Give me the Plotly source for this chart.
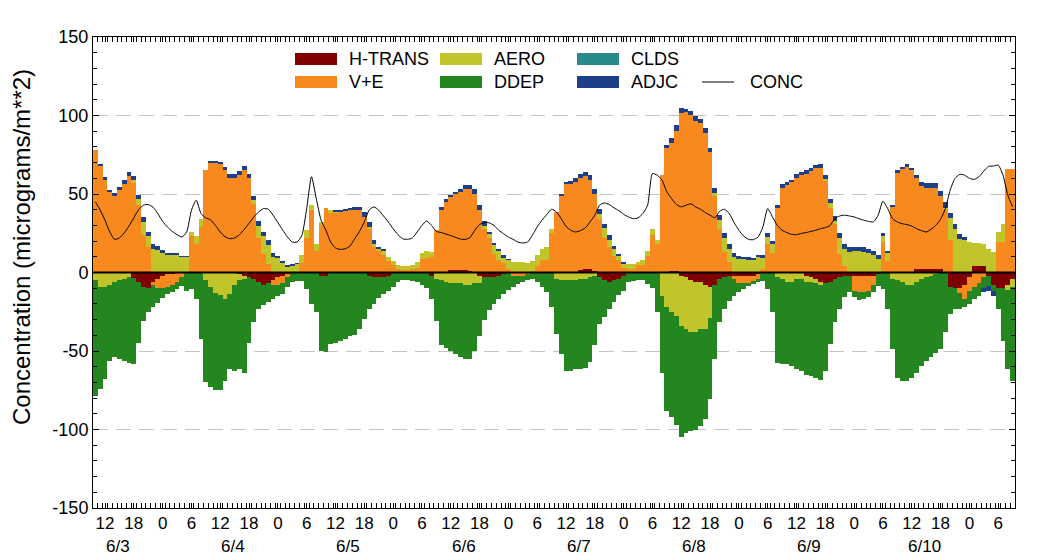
import numpy as np
import plotly.graph_objects as go

# ---------------- data (hourly, first bar = 6/3 10:00) ----------------
FIRST_HOUR = 10  # hours after 6/3 00:00

HTRANS = [
    0, 0, 0, 0, 0, 0, 0, 0, -3.5, -6, -9, -10,
    -6, -4, -2, -1, -1, 0, 0, 0, 0, 0, 0, 0,
    0, 0, 0, 0, 0, 0, -1, -2, -3, -4, -6, -8,
    -7, -5, -3, -2, -1, 0, 0, 0, 0, 0, 0, -2,
    -2, 0, 0, 0, 0, 0, 0, 0, 0, -2, -3, -3,
    -3, -2, 0, 0, 0, 0, 0, 0, 0, 0, -2, 0,
    0, 0, 1.5, 1.5, 1.5, 1.5, 1, 0, -2, -3, -3, -3,
    -2, -1, 0, 0, 0, 0, 0, 0, 0, 0, 0, 0,
    0, 0, 0, 0, 0, 1.5, 2, 2, 1, -3, -5, -6,
    -5, -4, -2, 0, 0, 0, 0, 0, 0, 0, 0, 0.5,
    1, 1, -2, -3, -5, -6, -6, -8, -9, -8, -4, -3,
    -2, -2, -2, -2, -2, -2, -1, 0, 0, 0, 0, 0,
    0, 0, 0, 0, -2, -3, -4, -6, -7, -6, -4, -3,
    -2, -2, -2.5, -2.5, -2.5, -2.5, -2, -1, 0, 0, 0, 0,
    0, 0, 0, 2, 2, 2, 2, 2, 2, 0, -9, -10,
    -10, -8, -3, 4, 4.4, 4, -2, -8, -10, -10, -8, -4,
]

VE = [
    78, 68, 59, 51, 49, 52.5, 56.3, 61.4, 57, 43.3, 23.7, 16,
    -2, -6, -8, -8, -7, -6, -3, 0, 23, 18, 29, 65,
    70, 69.5, 69, 65, 60.5, 60.5, 62, 65, 60, 43.5, 22, 12,
    5.5, -3, -5, -5, -2, 0, 0, 6, 22, 40, 14, 30,
    41, 38.5, 38.5, 39, 39.5, 39.5, 40, 40, 35.5, 28, 16, 13.5,
    11, 7.5, 4.5, 2, 1.5, 1.5, 2, 2.6, 8.4, 9.4, 10, 27,
    40, 45, 46.5, 48.5, 49.8, 51.9, 52.2, 49.8, 40, 27.6, 21.8, 12,
    8.2, 6.3, 2, -2, -2, -2, -1, 1, 4, 8, 8, 25,
    38.6, 48.7, 56.3, 56.3, 57.4, 58.4, 59.4, 57, 48.7, 34.3, 21.8, 16,
    10.8, 7.7, 3, 2.5, 2.5, 4.5, 4.7, 10.8, 23.7, 18.4, 62, 78.8,
    81.7, 89.2, 101.5, 102, 100.4, 96.8, 95, 89, 76.9, 49, 28, 13.3,
    6.7, -2, -5, -5, -5, -4, -3, 2, 18, 12.6, 41, 54,
    55.8, 57.5, 60.4, 61.9, 62.9, 64.6, 66.3, 66.7, 58, 41, 30.8, 12,
    4.2, 0, -9, -10, -10, -9, -6, 0, 19.3, 7.5, 42, 64,
    66.5, 67.4, 65.2, 58.5, 53.3, 52.1, 51.9, 51.6, 46.8, 40.2, 20.6, 0,
    -3, -9, -9, -9, -7, -3, 0, 0, 19.4, 19.4, 66, 66,
]

AERO = [
    -5, -9, -9, -8, -6, -5, -4, -3, 2, 3.6, 8.5, 7,
    15, 14.5, 12.5, 11.6, 11.7, 11.5, 10.2, 10, 3, 5, 5, -5,
    -9, -13, -14.5, -17, -14, -8, -4, -2, 0, 3, 7.5, 11,
    12, 10, 9, 6, 4, 4.5, 5.5, 5, 5, 3, 4, 2,
    0, 1, 0.5, 0, 0, 0, 0, 0, 0, 1, 2, 1.5,
    3, 2.5, 3, 3, 2.5, 2.8, 3, 4, 4, 4, 3, -4,
    -5, -6, -7, -7, -7, -8, -8, -7, -5, 2, 2.5, 6,
    5.3, 3.2, 6, 7, 6.5, 6.4, 6, 6.5, 7, 7, 8, 3,
    -4, -5, -5, -5, -5, -4, -4, -3, -2, 2.8, 6.4, 5,
    4.3, 2.6, 3, 3, 3, 2.1, 3, 3.2, 4.3, 2.6, -15, -22,
    -25, -28, -32, -33, -33, -32, -30, -28, -20, 1.5, 5.3, 8.5,
    8.5, 10, 8.3, 8.3, 8.1, 7.7, 9.6, 7.3, 4.7, 5.3, -3, -4,
    -6, -6, -4, -4, -4, -3, -3, -2, 1.3, 3.5, 2, 10,
    11, 13.2, 13.7, 13.9, 13.2, 12.4, 11.2, 8.9, 4, 5, -4, -5,
    -6, -8, -8, -6, -4, -3, -2, -1, 0, 1, 14, 28,
    21.5, 20.5, 19.4, 15, 14.4, 14.3, 15, 13, 6.4, 11.7, -3, -5,
]

DDEP = [
    -73.7, -65.4, -59, -48.3, -48, -50.2, -52.3, -54.4, -54.9, -38.6, -21.7, -15.4,
    -14, -9.4, -6, -5, -4.6, -4.8, -5.5, -12, -10.4, -17, -42.4, -65,
    -64, -62, -60.5, -52, -47.6, -54.7, -56.6, -59.8, -41.6, -27.8, -17.2, -13,
    -12, -9, -6.7, -6.6, -6.4, -6.2, -5.1, -5.5, -10.4, -20, -25.4, -48,
    -48.5, -45.6, -44.6, -43.5, -42.4, -40.7, -40, -36, -29.6, -21.2, -17, -13.4,
    -10.6, -9.5, -9.4, -6.2, -5, -5, -5.5, -6.2, -7.9, -10, -14.8, -27,
    -41, -41.8, -43, -45, -46.5, -47.2, -47.2, -43, -33.5, -27.5, -20.7, -17,
    -14.6, -13, -11.3, -7.4, -5.3, -3.8, -3.7, -4, -6.2, -9.4, -12.6, -22,
    -35, -47, -58, -58, -56.6, -57.6, -57, -54, -44, -30, -23.6, -17,
    -14, -10.3, -9.5, -6.2, -5.1, -4.5, -4.5, -7.2, -10, -25, -49, -66,
    -67, -69, -71, -66, -63, -62, -62, -57.6, -51.8, -47, -27.8, -20.2,
    -16, -10.7, -5.6, -3.4, -1.3, -1.2, -2.2, -5.1, -10.4, -25.4, -54.4, -54.4,
    -52.4, -53.5, -57.6, -58.7, -59, -60, -60, -60.2, -55.7, -39.6, -27.8, -20.2,
    -13.8, -10.6, -4.3, -4.8, -4.5, -4.3, -4.6, -7.3, -10.4, -23.2, -44.8, -62,
    -63, -61, -59, -57.8, -55.5, -53.3, -52, -50, -48.8, -38, -17.4, -13.2,
    -10.2, -5, -8, -7.8, -7.7, -6.6, -6.5, -3.7, -13.2, -33.5, -50.6, -60,
]

CLDS = [
    0, 0, 0, 0, 0, 0, 0, 0, 0, 0, 0, 0,
    0, 0, 0, 0, 0, 0, 0, 0, 0, 0, 0, 0,
    0, 0, 0, 0, 0, 0, 0, 0, 0, 0, 0, 0,
    0, 0, 0, 0, 0, 0, 0, 0, 0, 0, 0, 0,
    0, 0, 0, 0, 0, 0, 0, 0, 0, 0, 0, 0,
    0, 0, 0, 0, 0, 0, 0, 0, 0, 0, 0, 0,
    0, 0, 0, 0, 0, 0, 0, 0, 0, 0, 0, 0,
    0, 0, 0, 0, 0, 0, 0, 0, 0, 0, 0, 0,
    0, 0, 0, 0, 0, 0, 0, 0, 0, 0, 0, 0,
    0, 0, 0, 0, 0, 0, 0, 0, 0, 0, 0, 0,
    0, 0, 0, 0, 0, 0, 0, 0, 0, 0, 0, 0,
    0, 0, 0, 0, 0, 0, 0, 0, 0, 0, 0, 0,
    0, 0, 0, 0, 0, 0, 0, 0, 0, 0, 0, 0,
    0, 0, 0, 0, 0, 0, 0, 0, 0, 0, 0, 0,
    0, 0, 0, 0, 0, 0, 0, 0, 0, 0, 0, 0,
    0, 0, 0, 0, 0, 0, 0, 0, 0, 0, 0, 0,
]

ADJC = [
    0, 1.3, 2, 1.5, 1.5, 2, 2.5, 2.6, 2.4, 2.6, 3, 3,
    3, 2.5, 2, 1, 0.5, 0.3, 0.2, 0.2, 0, 0, 0, 0,
    1, 1.5, 1.5, 2, 2.5, 2.5, 2.5, 3, 3, 2.5, 3, 3,
    3, 2.5, 1.5, 1.5, 0.5, 0.3, 0.2, 0, 0, 0, 0, 0,
    0, 0, 0.5, 1, 1, 1.5, 1.5, 2, 3, 3, 2.5, 1.5,
    0.5, 0, 0, 0, 0, 0, 0, 0, 0, 0, 0, 0,
    1.5, 2, 1.5, 1.5, 1.7, 2.6, 2.8, 3.2, 3, 3, 1.7, 1,
    1.5, 1.5, 0.5, 0, 0, 0, 0, 0, 0, 0, 0, 0,
    0, 1.3, 1.5, 1.7, 2.6, 2.8, 2.6, 3.4, 3.8, 3.6, 2.8, 2.6,
    1.5, 1.7, 0.3, 0, 0, 0, 0, 0, 0, 0, 0, 1.7,
    2.8, 3.8, 3.2, 2.1, 2.6, 3.2, 2.6, 3, 2.6, 3.4, 3.2, 3.2,
    2.8, 2.6, 1.9, 1.7, 1.7, 1.7, 1.7, 1.7, 2.3, 2.1, 2.1, 2.1,
    1.9, 1.5, 2.3, 2.1, 2.1, 2.1, 2.1, 2.3, 2.6, 2.5, 3, 3,
    2.8, 2.8, 2.8, 2.6, 2.8, 2.6, 2.3, 2.1, 1.7, 1.5, 1, 1,
    1, 1.5, 1.5, 1.5, 2.1, 2.6, 2.8, 3.4, 3.2, 3.4, 3.4, 2.8,
    3.2, 2.1, 0, 0, 0, -3, -3, -3, 0, 0, 0, 0,
]

CONC = [
    45, 39.7, 33.3, 25.8, 21.1, 22, 25.2, 29.6, 34.8, 40, 42.9, 43.3,
    41.6, 37.5, 32.6, 29, 26.2, 24.1, 22.6, 25.8, 39.7, 46, 37.5, 34.8,
    33.5, 30, 25.8, 22.8, 21.5, 22, 24.1, 27.5, 31.3, 35.4, 38.6, 40.7,
    40.3, 36.5, 31.8, 27, 22.6, 19.4, 19.4, 23.7, 40.7, 61, 47, 33.3,
    26.9, 19.4, 15.6, 14.7, 15.1, 16.8, 21.5, 26.2, 32.2, 39.7, 41.8, 39.7,
    36, 32.2, 27.9, 24.1, 21.5, 21.1, 22, 25.8, 30, 32.8, 30, 26.2,
    25.5, 24.5, 23.5, 22.4, 21.3, 21.1, 22.2, 26.9, 30.5, 31.8, 31.6, 30,
    26.9, 24.7, 22.6, 21.1, 19.4, 18.8, 19.4, 23.7, 29, 33.3, 36.9, 40.3,
    38.6, 34.3, 29.4, 26.9, 25.8, 26.7, 28.4, 32.2, 36.5, 42.9, 44.3, 43.3,
    41.2, 39.4, 37.1, 35.4, 34.3, 34.8, 37.5, 42.9, 63, 62, 58.8, 51.4,
    47, 43.3, 41.8, 42.9, 43.7, 41.8, 40.3, 38.2, 36.5, 34.8, 39, 40.3,
    37.5, 31.8, 26.9, 23.2, 21.1, 20.9, 22.6, 29, 40.7, 35.4, 30, 26.9,
    25.4, 24.3, 24.1, 24.9, 25.4, 26.2, 26.9, 27.9, 28.6, 30, 34.3, 36,
    36.5, 36, 35.4, 34.3, 33.3, 32.6, 32.2, 36.5, 45.4, 40.7, 34.3, 32.2,
    31.1, 30.5, 29.6, 27.9, 26.7, 25.8, 27.5, 30, 33.9, 40.7, 52.5, 59.9,
    62.5, 62, 60, 59.3, 61, 64.6, 67.6, 67.8, 68.4, 62, 49.3, 41.8,
]

XTICK_HOURS = [12, 18, 24, 30, 36, 42, 48, 54, 60, 66, 72, 78, 84, 90, 96, 102,
               108, 114, 120, 126, 132, 138, 144, 150, 156, 162, 168, 174, 180, 186, 192, 198]
XTICK_LABELS = ["12", "18", "0", "6", "12", "18", "0", "6", "12", "18", "0", "6",
                "12", "18", "0", "6", "12", "18", "0", "6", "12", "18", "0", "6",
                "12", "18", "0", "6", "12", "18", "0", "6"]
DATE_LABELS = ["6/3", "6/4", "6/5", "6/6", "6/7", "6/8", "6/9", "6/10"]
DATE_NOON_HOURS = [12, 36, 60, 84, 108, 132, 156, 180]
YTICKS = [-150, -100, -50, 0, 50, 100, 150]
YTICK_LABELS = ["-150", "-100", "-50", "0", "50", "100", "150"]

# ---------------- style ----------------
C_HT = "#7f0000"
C_VE = "#f7891f"
C_AERO = "#c1c42a"
C_DDEP = "#23861f"
C_CLDS = "#2a8a8a"
C_ADJC = "#1d3f8a"
FONT = "Arial, Liberation Sans, sans-serif"

hours = np.arange(FIRST_HOUR, FIRST_HOUR + len(VE))
aero = np.array(AERO, dtype=float)

fig = go.Figure()


def add_bar(vals, color, name):
    fig.add_trace(go.Bar(x=hours, y=vals, width=1.0, name=name,
                         marker=dict(color=color, line=dict(width=0)),
                         showlegend=False))


add_bar(HTRANS, C_HT, "H-TRANS")
add_bar(np.minimum(aero, 0), C_AERO, "AERO")
add_bar(VE, C_VE, "V+E")
add_bar(np.maximum(aero, 0), C_AERO, "AERO")
add_bar(DDEP, C_DDEP, "DDEP")
add_bar(CLDS, C_CLDS, "CLDS")
add_bar(ADJC, C_ADJC, "ADJC")
fig.add_trace(go.Scatter(x=hours, y=CONC, mode="lines", name="CONC",
                         line=dict(color="black", width=1, shape="spline", smoothing=0.6),
                         showlegend=False))

# page body has an 8px offset, so plot area lands at x 93..1015, y 37..508
fig.update_layout(
    width=1050, height=560,
    margin=dict(l=85, r=43, t=29, b=60),
    barmode="relative", bargap=0,
    plot_bgcolor="white", paper_bgcolor="white",
    font=dict(family=FONT, size=17, color="black"),
    showlegend=False,
)

fig.update_xaxes(
    range=[9.5, 201.5], tickmode="array", tickvals=XTICK_HOURS, ticktext=XTICK_LABELS,
    ticks="inside", ticklen=5, tickcolor="black", tickfont=dict(size=17),
    showline=True, linecolor="black", linewidth=1, mirror="ticks",
    showgrid=False, zeroline=False,
    minor=dict(tickmode="linear", tick0=0.5, dtick=1, ticks="inside", ticklen=5,
               tickcolor="black", showgrid=False),
)
fig.update_yaxes(
    range=[-150, 150], tickmode="array", tickvals=YTICKS, ticktext=YTICK_LABELS,
    ticks="inside", ticklen=6, tickcolor="black", tickfont=dict(size=18),
    showline=True, linecolor="black", linewidth=1, mirror="ticks",
    showgrid=True, gridcolor="#c4c4c4", gridwidth=1, griddash="15px,8px",
    zeroline=False,
    minor=dict(tickmode="linear", tick0=0, dtick=10, ticks="inside", ticklen=4,
               tickcolor="black", showgrid=False),
)

# zero line drawn on top of bars
fig.add_shape(type="line", xref="paper", x0=0, x1=1, yref="y", y0=0, y1=0,
              line=dict(color="black", width=2), layer="above")


def px_to_paper_x(px):
    return (px - 93) / 922.0


def px_to_paper_y(py):
    return (508 - py) / 471.0


# y-axis title
fig.add_annotation(text="Concentration (micrograms/m**2)", xref="paper", yref="paper",
                   x=px_to_paper_x(21), y=px_to_paper_y(247), textangle=-90, showarrow=False,
                   xanchor="center", yanchor="middle", font=dict(size=24, family=FONT))

# date labels under the noon ticks
for lab, h in zip(DATE_LABELS, DATE_NOON_HOURS):
    fig.add_annotation(text=lab, x=h + 2.7, xref="x", y=px_to_paper_y(546), yref="paper",
                       showarrow=False, xanchor="center", yanchor="middle",
                       font=dict(size=17, family=FONT))

# custom legend
legend_items = [
    ("H-TRANS", C_HT, 295, 59), ("V+E", C_VE, 295, 82),
    ("AERO", C_AERO, 440, 59), ("DDEP", C_DDEP, 440, 82),
    ("CLDS", C_CLDS, 577, 59), ("ADJC", C_ADJC, 577, 82),
]
for name, color, x0, yc in legend_items:
    fig.add_shape(type="rect", xref="paper", yref="paper",
                  x0=px_to_paper_x(x0), x1=px_to_paper_x(x0 + 42),
                  y0=px_to_paper_y(yc + 6), y1=px_to_paper_y(yc - 6),
                  fillcolor=color, line=dict(width=0))
    fig.add_annotation(text=name, xref="paper", yref="paper",
                       x=px_to_paper_x(x0 + 52), y=px_to_paper_y(yc),
                       xanchor="left", yanchor="middle", showarrow=False,
                       font=dict(size=18, family=FONT))
fig.add_shape(type="line", xref="paper", yref="paper",
              x0=px_to_paper_x(702), x1=px_to_paper_x(734),
              y0=px_to_paper_y(82), y1=px_to_paper_y(82),
              line=dict(color="black", width=1))
fig.add_annotation(text="CONC", xref="paper", yref="paper",
                   x=px_to_paper_x(748), y=px_to_paper_y(82),
                   xanchor="left", yanchor="middle", showarrow=False,
                   font=dict(size=18, family=FONT))

fig.write_html("out.html")
